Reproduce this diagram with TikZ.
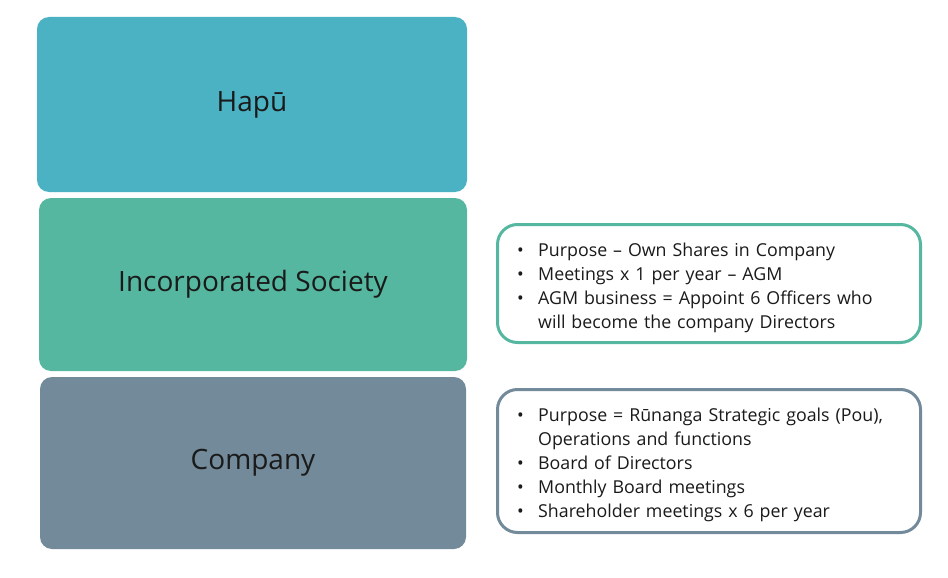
\documentclass[tikz,border=0pt]{standalone}
\usepackage{fontspec}
\setmainfont{Open Sans}
\usepackage{tikz}
\usetikzlibrary{shapes}
\definecolor{hapucol}{HTML}{4AB2C3}
\definecolor{soccol}{HTML}{55B7A0}
\definecolor{compcol}{HTML}{728A99}
\definecolor{txtcol}{HTML}{1A1A1A}
\tikzstyle{tier}=[rectangle, rounded corners=12pt, draw=none, text=txtcol,
                font=\fontsize{28}{32}\selectfont, inner sep=0]
\tikzstyle{notes}=[rectangle, rounded corners=20pt, fill=white, line width=3pt,
                inner sep=0]
\tikzstyle{notetxt}=[text=txtcol, text width=400pt, align=left, inner sep=0,
                font=\fontsize{17.8}{24}\selectfont, anchor=west]
\newcommand{\bul}[1]{\par\hangindent=21pt\hangafter=1\noindent
  \makebox[21pt][l]{\textbullet}#1\par}

\begin{document}
\begin{tikzpicture}[x=1pt,y=-1pt]
\path[use as bounding box] (0,0) rectangle (948,578);
\node[tier, fill=hapucol, minimum width=430pt, minimum height=175pt]
  (hapu) at (252,104.5) {Hapū};
\node[tier, fill=soccol, minimum width=428pt, minimum height=173pt]
  (soc) at (253,284.5) {Incorporated Society};
\node[tier, fill=compcol, minimum width=426pt, minimum height=172pt]
  (comp) at (253,463) {Company};
% notes beside the tiers
\node[notes, draw=soccol, minimum width=423pt, minimum height=118pt]
  (socnote) at (709,283.5) {};
\node[notetxt] (soctxt) at (517,283) {%
  \bul{Purpose – Own Shares in Company}
  \bul{Meetings x 1 per year – AGM}
  \bul{AGM business = Appoint 6 Officers who\newline will become the company Directors}};
\node[notes, draw=compcol, minimum width=423pt, minimum height=143pt]
  (compnote) at (709,461) {};
\node[notetxt] (comptxt) at (517,460) {%
  \bul{Purpose = Rūnanga Strategic goals (Pou),\newline Operations and functions}
  \bul{Board of Directors}
  \bul{Monthly Board meetings}
  \bul{Shareholder meetings x 6 per year}};
\end{tikzpicture}
\end{document}
